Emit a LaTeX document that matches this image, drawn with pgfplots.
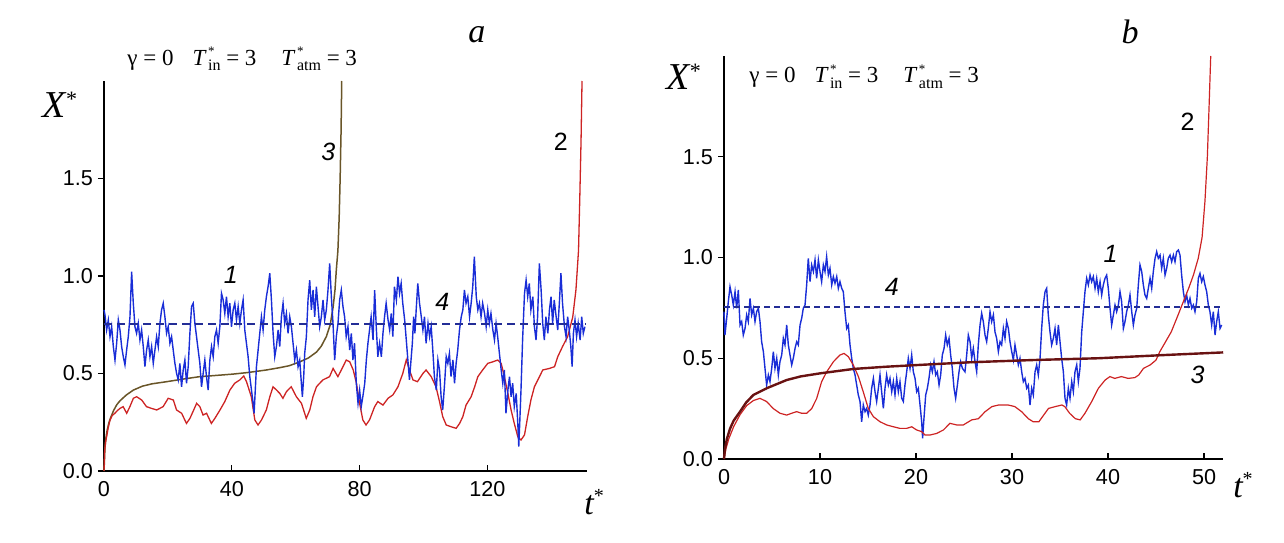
\documentclass[border=0pt]{standalone}
\usepackage{fontspec}
\setmainfont{Liberation Serif}
\newfontfamily\arial{Liberation Sans}
\usepackage{pgfplots}
\usepackage{pgfplotstable}
\pgfplotsset{compat=1.18}
\definecolor{cblue}{RGB}{25,45,215}
\definecolor{cred}{RGB}{205,35,35}
\definecolor{colive}{RGB}{105,85,40}
\definecolor{cmaroon}{RGB}{105,18,18}
\definecolor{cdash}{RGB}{35,45,150}
\newcommand{\Ts}[1]{\textit{T}\kern0.06em\makebox[0pt][l]{\raisebox{0.9ex}{\fontsize{6.5}{6.5}\selectfont *}}\raisebox{-0.5ex}{\fontsize{8}{8}\selectfont #1}}
\newcommand{\eqtext}{{\fontsize{11.5}{13}\selectfont γ = 0\hspace{9.5pt}\Ts{in} = 3\hspace{12.5pt}\Ts{atm} = 3}}
\newcommand{\Xs}{{\fontsize{19}{19}\selectfont\itshape X\raisebox{0.6ex}{\upshape\fontsize{11}{11}\selectfont *}}}
\newcommand{\ts}{{\fontsize{17}{17}\selectfont\itshape t\raisebox{0.75ex}{\upshape\fontsize{10}{10}\selectfont *}}}

\pgfplotstableread[row sep=\\]{
t v\\
0 0.826\\ 0.31 0.80\\ 0.83 0.723\\ 1.35 0.774\\ 1.88 0.689\\ 2.4 0.74\\ 2.92 0.638\\ 3.44 0.569\\ 3.96 0.655\\ 4.48 0.774\\
5.0 0.723\\ 5.52 0.638\\ 6.04 0.586\\ 6.56 0.544\\ 7.08 0.62\\ 7.6 0.689\\ 8.13 0.791\\ 8.65 1.022\\ 9.17 0.86\\ 9.69 0.74\\
10.2 0.706\\ 10.73 0.757\\ 11.25 0.672\\ 11.77 0.723\\ 12.29 0.638\\ 12.81 0.535\\ 13.33 0.62\\ 13.85 0.672\\ 14.38 0.586\\ 14.9 0.638\\
15.42 0.552\\ 15.94 0.62\\ 16.46 0.689\\ 16.98 0.638\\ 17.5 0.757\\ 18.02 0.826\\ 18.54 0.86\\ 19.06 0.791\\ 19.58 0.706\\ 20.1 0.74\\
20.63 0.655\\ 21.15 0.689\\ 21.67 0.62\\ 22.19 0.552\\ 22.71 0.501\\ 23.23 0.467\\ 23.75 0.552\\ 24.27 0.432\\ 24.79 0.518\\ 25.31 0.569\\
25.83 0.45\\ 26.35 0.535\\ 26.88 0.706\\ 27.4 0.843\\ 27.92 0.86\\ 28.44 0.757\\ 28.96 0.689\\ 29.48 0.62\\ 30.0 0.552\\ 30.52 0.432\\
31.04 0.501\\ 31.56 0.569\\ 32.08 0.484\\ 32.6 0.415\\ 33.13 0.569\\ 33.65 0.638\\ 34.17 0.586\\ 34.69 0.689\\ 35.21 0.723\\ 35.73 0.655\\
36.25 0.74\\ 36.77 0.911\\ 37.29 0.877\\ 37.81 0.808\\ 38.33 0.894\\ 38.85 0.791\\ 39.38 0.86\\ 39.9 0.74\\ 40.42 0.826\\ 40.94 0.86\\
41.46 0.774\\ 41.98 0.843\\ 42.5 0.757\\ 43.02 0.826\\ 43.54 0.877\\ 44.06 0.723\\ 44.58 0.655\\ 45.1 0.586\\ 45.63 0.484\\ 46.15 0.415\\
46.67 0.347\\ 46.98 0.296\\ 47.29 0.398\\ 47.71 0.535\\ 48.23 0.62\\ 48.75 0.706\\ 49.27 0.791\\ 49.79 0.723\\ 50.31 0.826\\ 50.83 0.894\\
51.35 0.945\\ 51.88 1.014\\ 52.4 0.877\\ 52.92 0.706\\ 53.44 0.586\\ 53.96 0.638\\ 54.48 0.723\\ 55.0 0.638\\ 55.52 0.791\\ 56.04 0.86\\
56.56 0.757\\ 57.08 0.808\\ 57.6 0.706\\ 58.13 0.791\\ 58.65 0.74\\ 59.17 0.655\\ 59.69 0.569\\ 60.21 0.62\\ 60.73 0.535\\ 61.25 0.569\\
61.77 0.45\\ 62.08 0.381\\ 62.5 0.484\\ 62.81 0.603\\ 63.33 0.689\\ 63.85 0.877\\ 64.38 0.979\\ 64.9 0.826\\ 65.42 0.928\\ 65.94 0.791\\
66.46 0.945\\ 66.98 0.843\\ 67.5 0.74\\ 68.02 0.791\\ 68.54 0.877\\ 69.06 0.774\\ 69.58 0.826\\ 70.1 0.928\\ 70.63 1.065\\ 71.15 0.894\\
71.67 0.757\\ 72.19 0.569\\ 72.71 0.689\\ 73.23 0.757\\
73.75 0.877\\ 74.27 0.928\\ 74.79 0.843\\ 75.3 0.791\\ 75.8 0.689\\ 76.35 0.74\\ 76.9 0.62\\ 77.4 0.706\\ 77.9 0.569\\ 78.4 0.655\\
78.96 0.45\\ 79.5 0.347\\ 80.0 0.415\\ 80.5 0.33\\ 81.0 0.381\\ 81.6 0.45\\ 82.1 0.569\\ 82.6 0.655\\ 83.1 0.723\\ 83.6 0.791\\
84.2 0.672\\ 84.7 0.928\\ 85.2 0.74\\ 85.7 0.586\\ 86.25 0.655\\ 86.8 0.586\\ 87.3 0.706\\ 87.8 0.791\\ 88.3 0.86\\ 88.9 0.774\\
89.4 0.723\\ 89.9 0.808\\ 90.4 0.689\\ 90.9 0.945\\ 91.5 0.877\\ 92.0 0.997\\ 92.5 0.911\\ 93.0 0.962\\ 93.5 0.86\\ 94.1 0.774\\
94.6 0.672\\ 95.1 0.569\\ 95.6 0.467\\ 96.0 0.552\\ 96.5 0.655\\ 96.9 0.791\\ 97.3 0.706\\ 97.7 0.826\\ 98.2 0.962\\ 98.75 0.86\\
99.3 0.791\\ 99.8 0.723\\ 100.3 0.791\\ 100.8 0.655\\ 101.4 0.757\\ 101.9 0.689\\ 102.4 0.74\\ 102.9 0.62\\ 103.4 0.484\\ 104.0 0.415\\
104.5 0.569\\ 105.0 0.518\\ 105.5 0.381\\ 106.0 0.313\\ 106.6 0.45\\ 107.1 0.586\\ 107.6 0.552\\ 108.1 0.603\\ 108.6 0.484\\ 109.2 0.569\\
109.7 0.45\\ 110.2 0.552\\ 110.7 0.62\\ 111.25 0.723\\ 111.8 0.791\\ 112.3 0.826\\ 112.8 0.928\\ 113.3 0.86\\ 113.85 0.894\\ 114.4 0.791\\
114.9 0.86\\ 115.4 0.945\\ 115.9 1.099\\ 116.5 0.894\\ 117.0 0.826\\ 117.5 0.86\\ 118.0 0.791\\ 118.5 0.86\\ 119.1 0.808\\ 119.6 0.74\\
120.1 0.826\\ 120.6 0.757\\ 121.1 0.808\\ 121.7 0.723\\ 122.2 0.672\\ 122.7 0.757\\ 123.2 0.689\\ 123.75 0.603\\ 124.3 0.518\\ 124.8 0.45\\
125.3 0.518\\ 125.8 0.296\\ 126.4 0.415\\ 126.9 0.484\\ 127.4 0.381\\ 127.9 0.45\\ 128.4 0.33\\ 129.0 0.398\\ 129.5 0.244\\ 129.8 0.125\\
130.1 0.244\\ 130.5 0.415\\ 131.0 0.672\\ 131.6 0.911\\ 132.1 0.979\\ 132.6 0.894\\ 133.1 0.962\\ 133.6 0.826\\ 134.2 0.894\\ 134.7 0.74\\
135.2 0.672\\ 135.7 0.791\\ 136.25 1.065\\ 136.8 0.928\\ 137.3 0.757\\ 137.8 0.672\\ 138.3 0.791\\ 138.9 0.706\\ 139.4 0.826\\ 139.9 0.894\\
140.4 0.757\\ 140.9 0.877\\ 141.5 0.791\\ 142.0 0.723\\ 142.5 0.86\\ 143.0 1.014\\ 143.5 0.86\\ 144.1 0.74\\ 144.6 0.689\\ 145.1 0.791\\
145.6 0.723\\ 146.1 0.638\\ 146.5 0.535\\ 146.9 0.706\\ 147.4 0.774\\ 147.9 0.689\\ 148.4 0.757\\ 149.0 0.672\\ 149.5 0.791\\ 150.0 0.706\\
150.5 0.74\\
}\blueA

\pgfplotstableread[row sep=\\]{
t v\\
0 0\\ 0.2 0.1\\ 0.5 0.15\\ 0.83 0.176\\ 1.3 0.22\\ 1.9 0.262\\ 2.6 0.285\\ 3.4 0.296\\ 4.2 0.31\\ 5.0 0.321\\
6.0 0.33\\ 7.1 0.296\\ 8.1 0.33\\ 9.2 0.373\\ 10.2 0.381\\ 11.8 0.364\\ 13.3 0.33\\ 14.9 0.321\\ 16.5 0.313\\ 18.5 0.33\\
20.1 0.373\\ 21.7 0.364\\ 22.7 0.313\\ 24.3 0.296\\ 25.8 0.244\\ 26.9 0.27\\ 29.0 0.347\\ 30.0 0.33\\ 31.0 0.287\\ 32.1 0.296\\
33.6 0.244\\ 34.7 0.27\\ 36.3 0.313\\ 37.8 0.356\\ 39.4 0.415\\ 40.9 0.45\\ 42.5 0.467\\ 43.75 0.487\\ 44.6 0.458\\ 46.1 0.381\\
47.2 0.262\\ 48.2 0.236\\ 49.3 0.262\\ 50.8 0.313\\ 51.9 0.381\\ 52.9 0.432\\ 54.0 0.415\\ 55.0 0.398\\ 56.0 0.373\\ 57.1 0.407\\
58.6 0.432\\ 60.2 0.381\\ 61.8 0.347\\ 63.3 0.27\\ 64.4 0.313\\ 65.4 0.381\\ 66.5 0.432\\ 67.5 0.45\\ 68.5 0.467\\ 70.6 0.484\\
71.7 0.526\\ 73.2 0.484\\ 74.8 0.535\\ 75.8 0.569\\ 76.9 0.56\\ 78.0 0.518\\ 79.0 0.45\\ 80.0 0.347\\ 81.0 0.262\\ 82.0 0.236\\
83.1 0.262\\ 84.7 0.33\\ 85.7 0.356\\ 87.3 0.338\\ 88.9 0.373\\ 90.4 0.39\\ 92.0 0.432\\ 93.5 0.5\\ 94.6 0.57\\ 95.6 0.518\\
96.7 0.467\\ 98.1 0.458\\ 99.8 0.5\\ 100.8 0.518\\ 102.4 0.484\\ 103.9 0.432\\ 105.0 0.356\\ 106.0 0.279\\ 107.1 0.236\\ 108.6 0.227\\
110.2 0.219\\ 111.3 0.244\\ 112.3 0.279\\ 113.3 0.338\\ 114.9 0.381\\ 116.0 0.432\\ 117.0 0.484\\ 118.5 0.518\\ 120.1 0.552\\ 121.7 0.56\\
123.2 0.569\\ 124.3 0.552\\ 125.3 0.484\\ 126.4 0.398\\ 127.4 0.313\\ 128.4 0.244\\ 129.5 0.176\\ 130.5 0.159\\ 131.6 0.185\\ 132.6 0.279\\
133.6 0.364\\ 134.7 0.432\\ 136.3 0.484\\ 137.3 0.518\\ 139.4 0.526\\ 141.0 0.535\\ 142.0 0.586\\ 143.5 0.638\\ 145.1 0.689\\ 146.7 0.79\\
147.7 0.93\\ 148.5 1.13\\ 148.9 1.4\\ 149.3 1.7\\ 149.6 2.0\\
}\redA

\pgfplotstableread[row sep=\\]{
t v\\
0 0\\ 0.3 0.12\\ 0.6 0.17\\ 1.0 0.21\\ 1.5 0.245\\ 2.0 0.27\\ 3.0 0.31\\ 4.0 0.34\\ 5.0 0.36\\ 7.0 0.39\\
9.2 0.415\\ 12.0 0.435\\ 15.0 0.447\\ 19.6 0.458\\ 25.0 0.472\\ 30.0 0.484\\ 35.0 0.49\\ 40.4 0.497\\ 45.0 0.505\\ 50.8 0.518\\
55.0 0.53\\ 58.0 0.54\\ 61.3 0.56\\ 64.0 0.58\\ 66.5 0.61\\ 68.0 0.64\\ 69.6 0.69\\ 70.8 0.75\\ 71.7 0.84\\ 72.3 0.93\\
72.7 1.03\\ 73.2 1.13\\ 73.6 1.3\\ 73.9 1.5\\ 74.2 1.75\\ 74.4 2.0\\
}\oliveA

\pgfplotstableread[row sep=\\]{
t v\\
0 0.731\\ 0.1 0.615\\ 0.28 0.698\\ 0.45 0.781\\ 0.625 0.855\\ 0.80 0.814\\ 0.97 0.764\\ 1.15 0.83\\ 1.32 0.748\\ 1.49 0.839\\
1.67 0.665\\ 1.84 0.682\\ 2.01 0.615\\ 2.19 0.648\\ 2.36 0.715\\ 2.53 0.682\\ 2.71 0.797\\ 2.88 0.715\\ 3.06 0.748\\ 3.23 0.682\\
3.40 0.731\\ 3.58 0.748\\ 3.75 0.682\\ 3.92 0.582\\ 4.10 0.533\\ 4.27 0.45\\ 4.44 0.367\\ 4.62 0.417\\ 4.79 0.384\\ 4.97 0.45\\
5.14 0.533\\ 5.31 0.45\\ 5.49 0.5\\ 5.66 0.417\\ 5.83 0.483\\ 6.01 0.516\\ 6.18 0.599\\ 6.35 0.566\\ 6.53 0.665\\ 6.70 0.566\\
6.875 0.516\\ 7.05 0.467\\ 7.22 0.5\\ 7.40 0.549\\ 7.57 0.582\\ 7.74 0.566\\ 7.92 0.665\\ 8.09 0.698\\ 8.26 0.748\\ 8.44 0.764\\
8.61 0.864\\ 8.78 0.996\\ 8.96 0.88\\ 9.13 0.963\\ 9.31 0.93\\ 9.48 0.988\\ 9.65 0.897\\ 9.83 0.988\\ 10.0 0.93\\ 10.17 0.88\\
10.35 0.963\\ 10.52 0.93\\ 10.69 1.004\\ 10.87 0.913\\ 11.04 0.946\\ 11.22 0.864\\ 11.39 0.905\\ 11.56 0.872\\ 11.74 0.905\\ 11.91 0.847\\
12.08 0.88\\ 12.26 0.847\\ 12.43 0.83\\ 12.60 0.731\\ 12.78 0.648\\ 12.95 0.665\\ 13.125 0.566\\ 13.30 0.5\\ 13.47 0.45\\ 13.65 0.417\\
13.82 0.367\\ 13.99 0.318\\ 14.17 0.285\\ 14.34 0.185\\ 14.51 0.268\\ 14.69 0.235\\ 14.86 0.251\\ 15.03 0.218\\ 15.21 0.268\\ 15.38 0.351\\
15.56 0.4\\ 15.73 0.334\\ 15.90 0.285\\ 16.08 0.351\\ 16.25 0.417\\ 16.42 0.334\\ 16.60 0.251\\ 16.77 0.351\\ 16.94 0.417\\ 17.12 0.367\\
17.29 0.4\\ 17.47 0.334\\ 17.64 0.384\\ 17.81 0.318\\ 17.99 0.4\\ 18.16 0.334\\ 18.33 0.384\\ 18.51 0.301\\ 18.68 0.285\\ 18.85 0.367\\
19.03 0.433\\ 19.20 0.5\\ 19.375 0.45\\ 19.55 0.516\\ 19.72 0.433\\ 19.90 0.4\\ 20.07 0.334\\ 20.24 0.351\\ 20.42 0.268\\ 20.59 0.185\\
20.69 0.103\\ 20.83 0.202\\ 21.01 0.318\\ 21.18 0.351\\ 21.35 0.4\\ 21.53 0.467\\ 21.70 0.433\\ 21.875 0.483\\ 22.05 0.417\\ 22.22 0.433\\
22.40 0.367\\ 22.57 0.417\\ 22.74 0.516\\ 22.92 0.549\\ 23.09 0.615\\ 23.26 0.566\\ 23.44 0.599\\ 23.61 0.516\\ 23.78 0.45\\ 23.96 0.351\\
24.13 0.301\\ 24.31 0.367\\ 24.48 0.433\\ 24.65 0.483\\ 24.83 0.45\\
25.1 0.433\\ 25.28 0.516\\ 25.45 0.615\\ 25.63 0.582\\ 25.8 0.5\\ 25.97 0.549\\ 26.15 0.483\\ 26.32 0.433\\ 26.49 0.566\\ 26.67 0.665\\
26.84 0.723\\ 27.01 0.682\\ 27.19 0.615\\ 27.36 0.582\\ 27.53 0.648\\ 27.71 0.731\\ 27.88 0.682\\ 28.06 0.715\\ 28.23 0.63\\ 28.4 0.599\\
28.58 0.533\\ 28.75 0.582\\ 28.92 0.566\\ 29.1 0.648\\ 29.27 0.599\\ 29.44 0.682\\ 29.62 0.648\\ 29.79 0.582\\ 29.97 0.533\\ 30.14 0.491\\
30.31 0.566\\ 30.49 0.516\\ 30.66 0.467\\ 30.83 0.5\\ 31.01 0.433\\ 31.18 0.384\\ 31.35 0.4\\ 31.53 0.351\\ 31.7 0.367\\ 31.875 0.268\\
32.05 0.351\\ 32.22 0.318\\ 32.4 0.433\\ 32.57 0.467\\ 32.74 0.417\\ 32.92 0.5\\ 33.09 0.648\\ 33.26 0.764\\ 33.44 0.83\\ 33.61 0.847\\
33.78 0.715\\ 33.96 0.63\\ 34.13 0.566\\ 34.31 0.599\\ 34.48 0.648\\ 34.65 0.566\\ 34.83 0.665\\ 35.0 0.582\\ 35.17 0.5\\ 35.35 0.433\\
35.52 0.301\\ 35.69 0.268\\ 35.87 0.351\\ 36.04 0.301\\ 36.22 0.384\\ 36.39 0.334\\ 36.56 0.433\\ 36.74 0.467\\ 36.91 0.384\\ 37.08 0.45\\
37.26 0.63\\ 37.43 0.731\\ 37.6 0.83\\ 37.78 0.897\\ 37.95 0.864\\ 38.13 0.913\\ 38.3 0.88\\ 38.47 0.905\\ 38.65 0.847\\ 38.82 0.897\\
38.99 0.83\\ 39.17 0.88\\ 39.34 0.814\\ 39.51 0.864\\ 39.69 0.897\\ 39.86 0.913\\ 40.03 0.847\\ 40.21 0.748\\ 40.38 0.665\\ 40.56 0.715\\
40.73 0.764\\ 40.9 0.731\\ 41.08 0.764\\ 41.25 0.83\\ 41.42 0.781\\ 41.6 0.648\\ 41.77 0.682\\ 41.94 0.731\\ 42.12 0.764\\ 42.29 0.814\\
42.47 0.731\\ 42.64 0.665\\ 42.81 0.715\\ 42.99 0.748\\ 43.16 0.864\\ 43.33 0.963\\ 43.51 0.93\\ 43.68 0.864\\ 43.85 0.814\\ 44.03 0.797\\
44.2 0.847\\ 44.38 0.897\\ 44.55 0.847\\ 44.72 0.93\\ 44.9 0.996\\ 45.07 1.029\\ 45.24 0.996\\ 45.42 1.012\\ 45.59 0.946\\ 45.76 0.996\\
45.94 0.913\\ 46.11 0.946\\ 46.28 0.996\\ 46.46 1.012\\ 46.63 0.979\\ 46.81 1.012\\ 46.98 0.979\\ 47.15 1.029\\ 47.33 1.037\\ 47.5 1.012\\
47.67 0.913\\ 47.85 0.83\\ 48.02 0.781\\ 48.19 0.814\\ 48.37 0.764\\ 48.54 0.797\\ 48.72 0.748\\ 48.89 0.764\\ 49.06 0.731\\ 49.24 0.781\\
49.41 0.897\\ 49.58 0.921\\ 49.76 0.88\\ 49.93 0.905\\ 50.1 0.864\\ 50.28 0.83\\ 50.45 0.764\\ 50.62 0.731\\ 50.8 0.665\\ 50.97 0.731\\
51.15 0.615\\ 51.32 0.682\\ 51.49 0.731\\ 51.67 0.648\\ 51.84 0.665\\
}\blueB

\pgfplotstableread[row sep=\\]{
t v\\
0 0\\ 0.2 0.05\\ 0.5 0.1\\ 1.0 0.16\\ 1.67 0.22\\ 2.36 0.265\\ 3.06 0.29\\ 3.75 0.301\\ 4.44 0.285\\ 5.14 0.25\\
5.83 0.227\\ 6.53 0.218\\ 7.05 0.227\\ 7.57 0.235\\ 8.09 0.227\\ 8.61 0.227\\ 9.13 0.25\\ 9.65 0.30\\ 10.17 0.384\\ 10.7 0.433\\
11.4 0.483\\ 12.08 0.516\\ 12.5 0.524\\ 12.95 0.508\\ 13.47 0.466\\ 14.0 0.409\\ 14.5 0.334\\ 15.03 0.251\\ 15.56 0.21\\ 16.25 0.185\\
16.94 0.169\\ 17.64 0.16\\ 18.33 0.152\\ 19.03 0.152\\ 19.55 0.16\\ 20.07 0.144\\ 20.59 0.136\\ 20.94 0.119\\ 21.46 0.119\\ 22.15 0.127\\
22.85 0.144\\ 23.54 0.177\\ 24.24 0.169\\ 24.93 0.169\\ 25.8 0.194\\ 26.5 0.2\\ 27.2 0.235\\ 27.9 0.26\\ 28.6 0.268\\ 29.6 0.268\\
30.3 0.26\\ 31.0 0.235\\ 31.7 0.2\\ 32.2 0.185\\ 32.8 0.185\\ 33.3 0.218\\ 33.8 0.251\\ 34.5 0.26\\ 35.2 0.268\\ 35.5 0.26\\
36.0 0.227\\ 36.6 0.2\\ 37.1 0.194\\ 37.6 0.227\\ 38.3 0.285\\ 39.0 0.351\\ 39.7 0.392\\ 40.2 0.409\\ 40.7 0.4\\ 41.4 0.409\\
42.1 0.4\\ 42.8 0.404\\ 43.2 0.417\\ 43.7 0.45\\ 44.4 0.467\\ 45.0 0.491\\ 45.4 0.533\\ 45.9 0.574\\ 46.6 0.632\\ 47.3 0.715\\
47.85 0.781\\ 48.4 0.847\\ 48.9 0.913\\ 49.4 0.996\\ 49.8 1.1\\ 50.1 1.28\\ 50.35 1.5\\ 50.55 1.78\\ 50.7 2.0\\
}\redB

\pgfplotstableread[row sep=\\]{
t v\\
0 0\\ 0.1 0.05\\ 0.3 0.1\\ 0.625 0.15\\ 1.0 0.19\\ 1.67 0.235\\ 2.3 0.28\\ 3.06 0.318\\ 4.44 0.351\\ 6.53 0.392\\
8.0 0.41\\ 10.0 0.425\\ 13.5 0.447\\ 16.9 0.458\\ 20.4 0.467\\ 25.6 0.48\\ 32.1 0.491\\ 39.0 0.5\\ 45.9 0.516\\ 52.0 0.529\\
}\maroonB

\pgfplotsset{
  myaxis/.style={
    scale only axis, clip=false,
    axis x line=bottom, axis y line=left,
    axis line style={-, line width=1pt, black},
    xtick align=inside, ytick align=outside,
    major tick length=3pt,
    tick style={line width=0.6pt, black},
    ymin=0, ymax=2,
    ytick={0,0.5,1,1.5},
    y tick label style={/pgf/number format/.cd, fixed, fixed zerofill, precision=1, /tikz/.cd},
    /pgf/number format/assume math mode=true,
    tick label style={font=\arial\fontsize{10.8}{12}\selectfont},
    x tick label style={yshift=-1.5pt},
    y tick label style={xshift=1pt},
    anchor=south west,
  }
}

\begin{document}
\begin{tikzpicture}[x=1pt,y=1pt]
\useasboundingbox (0,0) rectangle (642,271);
\begin{axis}[myaxis, at={(52pt,35.5pt)}, width=241.25pt, height=195pt,
  xmin=0, xmax=151, xtick={0,40,80,120}]
  \addplot[colive, line width=0.75pt] table[x=t,y=v] {\oliveA};
  \addplot[cred, line width=0.65pt] table[x=t,y=v] {\redA};
  \addplot[cblue, line width=0.7pt] table[x=t,y=v] {\blueA};
  \addplot[cdash, line width=0.9pt, dash pattern=on 4pt off 2.5pt] coordinates {(0,0.755) (150.8,0.755)};
  \node at (axis cs:-13.75,1.877) {\Xs};
  \node at (axis cs:153.4,-0.159) {\ts};
  \node[font=\fontsize{17}{17}\selectfont\itshape] at (axis cs:116.7,2.236) {a};
  \node[anchor=base west, inner sep=0] at (axis cs:7.2,2.082) {\eqtext};
  \node[font=\arial\itshape\fontsize{12.5}{12.5}\selectfont] at (axis cs:39.7,1.005) {1};
  \node[font=\arial\itshape\fontsize{12.5}{12.5}\selectfont] at (axis cs:105.9,0.867) {4};
  \node[font=\arial\itshape\fontsize{12.5}{12.5}\selectfont] at (axis cs:70.2,1.636) {3};
  \node[font=\arial\fontsize{12.5}{12.5}\selectfont] at (axis cs:143,1.687) {2};
\end{axis}
\begin{axis}[myaxis, at={(362pt,41.5pt)}, width=249.6pt, height=201.5pt,
  xmin=0, xmax=52, xtick={0,10,20,30,40,50}]
  \addplot[cblue, line width=0.7pt] table[x=t,y=v] {\blueB};
  \addplot[cred, line width=0.6pt] table[x=t,y=v] {\redB};
  \addplot[cmaroon, line width=1.2pt] table[x=t,y=v] {\maroonB};
  \addplot[cdash, line width=0.6pt, dash pattern=on 3pt off 2pt] coordinates {(0,0.754) (52,0.754)};
  \node at (axis cs:-4.2,1.896) {\Xs};
  \node at (axis cs:54.06,-0.129) {\ts};
  \node[font=\fontsize{17}{17}\selectfont\itshape] at (axis cs:42.3,2.119) {b};
  \node[anchor=base west, inner sep=0] at (axis cs:2.6,1.867) {\eqtext};
  \node[font=\arial\itshape\fontsize{12.5}{12.5}\selectfont] at (axis cs:40.26,1.017) {1};
  \node[font=\arial\itshape\fontsize{12.5}{12.5}\selectfont] at (axis cs:17.47,0.855) {4};
  \node[font=\arial\itshape\fontsize{12.5}{12.5}\selectfont] at (axis cs:49.34,0.417) {3};
  \node[font=\arial\fontsize{12.5}{12.5}\selectfont] at (axis cs:48.3,1.672) {2};
\end{axis}
\end{tikzpicture}
\end{document}
